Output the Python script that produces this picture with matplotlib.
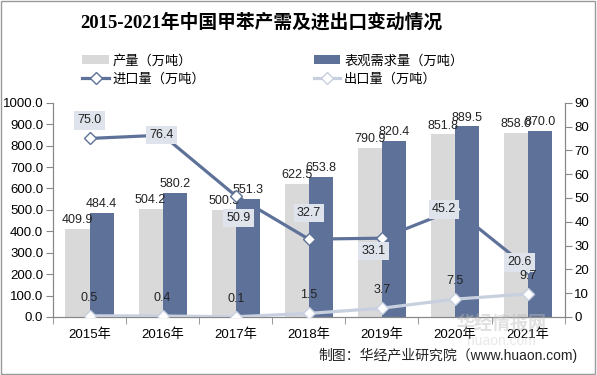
import numpy as np
import matplotlib
matplotlib.use('Agg')
import matplotlib.pyplot as plt
from matplotlib.patches import Rectangle

plt.rcParams['font.family'] = ['Liberation Sans', 'Noto Sans CJK SC', 'DejaVu Sans']
plt.rcParams['axes.unicode_minus'] = False

# 数据
years = ['2015年', '2016年', '2017年', '2018年', '2019年', '2020年', '2021年']
production = [409.9, 504.2, 500.5, 622.5, 790.9, 851.8, 858.0]
demand = [484.4, 580.2, 551.3, 653.8, 820.4, 889.5, 870.0]
imports = [75.0, 76.4, 50.9, 32.7, 33.1, 45.2, 20.6]
exports = [0.5, 0.4, 0.1, 1.5, 3.7, 7.5, 9.7]

c_prod = '#D9D9D9'
c_dem = '#5E7299'
c_imp = '#5E7299'
c_exp = '#C8CFDF'
box_c = '#DFE3EB'
fs = 9

fig = plt.figure(figsize=(5.97, 3.75), dpi=100)
ax = fig.add_axes([0.0888, 0.1547, 0.857, 0.5713])
ax2 = ax.twinx()

x = np.arange(len(years))
w = 0.33
b1 = ax.bar(x - w / 2, production, w, color=c_prod, label='产量（万吨）', zorder=2)
b2 = ax.bar(x + w / 2, demand, w, color=c_dem, label='表观需求量（万吨）', zorder=2)

for xi, v in zip(x, production):
    ax.annotate('%.1f' % v, (xi - w / 2, v), xytext=(0, 2), textcoords='offset points',
                ha='center', va='bottom', fontsize=fs, color='#222222', zorder=3)
for xi, v in zip(x, demand):
    ax.annotate('%.1f' % v, (xi + w / 2, v), xytext=(0, 2), textcoords='offset points',
                ha='center', va='bottom', fontsize=fs, color='#222222', zorder=3)

ax.set_xlim(-0.5, len(years) - 0.5)
ax.set_ylim(0, 1000)
ax.set_yticks(np.arange(0, 1001, 100))
ax.set_yticklabels(['%.1f' % t for t in np.arange(0, 1001, 100)])
ax.set_xticks(x)
ax.set_xticklabels(years)
ax.set_xticks(np.arange(-0.5, len(years), 1), minor=True)
ax.tick_params(axis='x', which='major', length=0, pad=8, labelsize=9.5)
ax.tick_params(axis='x', which='minor', length=5, color='#888888', direction='out')
ax.tick_params(axis='y', length=5, color='#888888', labelsize=9.5, pad=2)

l1, = ax2.plot(x, imports, color=c_imp, lw=2.3, marker='D', ms=6, mfc='white',
               mec=c_imp, mew=1, label='进口量（万吨）', zorder=4)
l2, = ax2.plot(x, exports, color=c_exp, lw=2.3, marker='D', ms=6, mfc='white',
               mec=c_exp, mew=1, label='出口量（万吨）', zorder=4)
ax2.set_ylim(0, 90)
ax2.set_yticks(np.arange(0, 91, 10))
ax2.tick_params(axis='y', length=5, color='#888888', labelsize=9.5, pad=2)

# 进口量标签位置（点偏移）
imp_off = [(0, 13), (-1, 0), (2, -16), (0, 19), (-6, -9), (-8, 0), (-6, 4)]
for xi, v, (dx, dy) in zip(x, imports, imp_off):
    ax2.annotate('%.1f' % v, (xi, v), xytext=(dx, dy), textcoords='offset points',
                 ha='center', va='center', fontsize=fs, color='#222222', zorder=5,
                 bbox=dict(boxstyle='square,pad=0.25', fc=box_c, ec='none'))
for xi, v in zip(x, exports):
    ax2.annotate('%.1f' % v, (xi, v), xytext=(0, 13), textcoords='offset points',
                 ha='center', va='center', fontsize=fs, color='#222222', zorder=5)

for a in (ax, ax2):
    a.spines['top'].set_visible(False)
    for s in ('left', 'right', 'bottom'):
        a.spines[s].set_color('#888888')
ax.set_zorder(1)
ax2.set_zorder(2)
ax2.patch.set_visible(False)

fig.text(0.437, 0.94, '2015-2021年中国甲苯产需及进出口变动情况', ha='center', va='center',
         fontsize=13.5, fontweight='bold', family=['Liberation Serif', 'Noto Sans CJK SC'])

fig.legend([b1, l1, b2, l2], ['产量（万吨）', '进口量（万吨）', '表观需求量（万吨）', '出口量（万吨）'],
           ncol=2, loc='upper left', bbox_to_anchor=(0.127, 0.872), frameon=False,
           borderpad=0, fontsize=9.5, handlelength=2.0, handletextpad=0.3,
           columnspacing=8.2, labelspacing=0.45)

# 水印
fig.text(0.84, 0.135, '华经情报网', ha='center', va='center', fontsize=13,
         color='#BBBBBB', alpha=0.45, fontweight='bold')
fig.text(0.84, 0.09, 'huaon.com', ha='center', va='center', fontsize=10,
         color='#CCCCCC', alpha=0.45)

fig.text(0.968, 0.053, '制图：华经产业研究院（www.huaon.com)', ha='right', va='center',
         fontsize=10, color='#222222')

fig.patches.append(Rectangle((0.002, 0.003), 0.995, 0.994, transform=fig.transFigure,
                             fill=False, ec='#999999', lw=1))

fig.savefig('out.png', dpi=100)
